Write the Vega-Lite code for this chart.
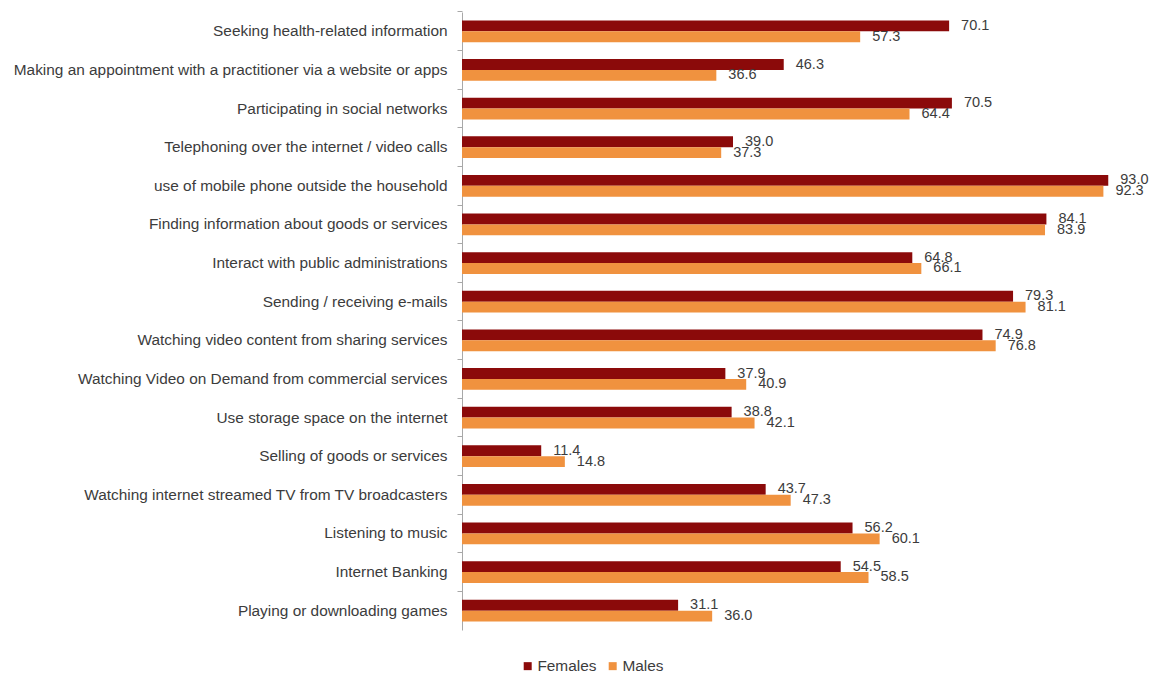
{
  "$schema": "https://vega.github.io/schema/vega-lite/v6.json",
  "autosize": {"type": "none"},
  "padding": {"left": 462, "top": 12, "right": 11, "bottom": 44},
  "width": 681,
  "height": 618,
  "background": "white",
  "config": {"view": {"stroke": null}, "font": "Liberation Sans"},
  "data": {
    "values": [
      {"activity": "Seeking health-related information", "sex": "Females", "value": 70.1},
      {"activity": "Seeking health-related information", "sex": "Males", "value": 57.3},
      {"activity": "Making an appointment with a practitioner via a website or apps", "sex": "Females", "value": 46.3},
      {"activity": "Making an appointment with a practitioner via a website or apps", "sex": "Males", "value": 36.6},
      {"activity": "Participating in social networks", "sex": "Females", "value": 70.5},
      {"activity": "Participating in social networks", "sex": "Males", "value": 64.4},
      {"activity": "Telephoning over the internet / video calls", "sex": "Females", "value": 39.0},
      {"activity": "Telephoning over the internet / video calls", "sex": "Males", "value": 37.3},
      {"activity": "use of mobile phone outside the household", "sex": "Females", "value": 93.0},
      {"activity": "use of mobile phone outside the household", "sex": "Males", "value": 92.3},
      {"activity": "Finding information about goods or services", "sex": "Females", "value": 84.1},
      {"activity": "Finding information about goods or services", "sex": "Males", "value": 83.9},
      {"activity": "Interact with public administrations", "sex": "Females", "value": 64.8},
      {"activity": "Interact with public administrations", "sex": "Males", "value": 66.1},
      {"activity": "Sending / receiving e-mails", "sex": "Females", "value": 79.3},
      {"activity": "Sending / receiving e-mails", "sex": "Males", "value": 81.1},
      {"activity": "Watching video content from sharing services", "sex": "Females", "value": 74.9},
      {"activity": "Watching video content from sharing services", "sex": "Males", "value": 76.8},
      {"activity": "Watching Video on Demand from commercial services", "sex": "Females", "value": 37.9},
      {"activity": "Watching Video on Demand from commercial services", "sex": "Males", "value": 40.9},
      {"activity": "Use storage space on the internet", "sex": "Females", "value": 38.8},
      {"activity": "Use storage space on the internet", "sex": "Males", "value": 42.1},
      {"activity": "Selling of goods or services", "sex": "Females", "value": 11.4},
      {"activity": "Selling of goods or services", "sex": "Males", "value": 14.8},
      {"activity": "Watching internet streamed TV from TV broadcasters", "sex": "Females", "value": 43.7},
      {"activity": "Watching internet streamed TV from TV broadcasters", "sex": "Males", "value": 47.3},
      {"activity": "Listening to music", "sex": "Females", "value": 56.2},
      {"activity": "Listening to music", "sex": "Males", "value": 60.1},
      {"activity": "Internet Banking", "sex": "Females", "value": 54.5},
      {"activity": "Internet Banking", "sex": "Males", "value": 58.5},
      {"activity": "Playing or downloading games", "sex": "Females", "value": 31.1},
      {"activity": "Playing or downloading games", "sex": "Males", "value": 36.0}
    ]
  },
  "encoding": {
    "y": {
      "field": "activity",
      "type": "nominal",
      "sort": null,
      "title": null,
      "scale": {"paddingInner": 0.44, "paddingOuter": 0.22},
      "axis": {
        "labelFont": "Liberation Sans",
        "labelFontSize": 15.4,
        "labelColor": "#3c3c3c",
        "labelPadding": 10,
        "labelLimit": 0,
        "domainColor": "#a8a8a8",
        "ticks": true,
        "tickColor": "#a8a8a8",
        "tickSize": 5,
        "bandPosition": -0.393
      }
    },
    "yOffset": {"field": "sex", "type": "nominal", "sort": ["Females", "Males"]},
    "x": {
      "field": "value",
      "type": "quantitative",
      "scale": {"domain": [0, 98]},
      "axis": null
    }
  },
  "layer": [
    {
      "mark": {"type": "bar"},
      "encoding": {
        "color": {
          "field": "sex",
          "type": "nominal",
          "scale": {"domain": ["Females", "Males"], "range": ["#8B0A0A", "#F0923F"]},
          "legend": {
            "title": null,
            "orient": "none",
            "direction": "horizontal",
            "legendX": 58,
            "legendY": 646,
            "symbolType": "square",
            "symbolSize": 64,
            "symbolStrokeWidth": 0,
            "labelFont": "Liberation Sans",
            "labelFontSize": 15.4,
            "labelColor": "#3c3c3c",
            "labelOffset": 2,
            "columnPadding": 8
          }
        }
      }
    },
    {
      "mark": {"type": "text", "align": "left", "baseline": "middle", "dx": 12, "font": "Liberation Sans", "fontSize": 14.5, "color": "#3c3c3c"},
      "encoding": {
        "text": {"field": "value", "type": "quantitative", "format": ".1f"}
      }
    }
  ]
}
